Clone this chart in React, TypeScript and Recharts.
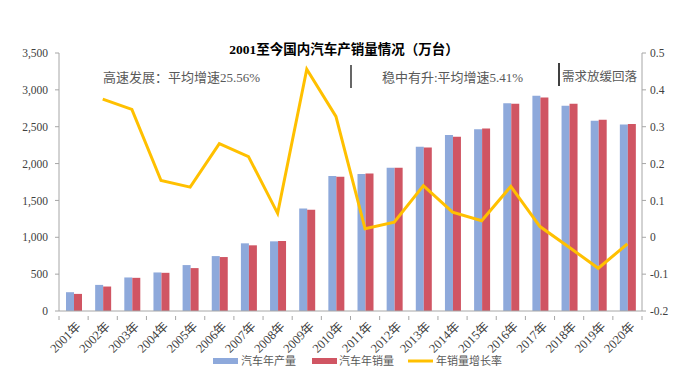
import React from "react";
import {
  ComposedChart,
  Bar,
  Line,
  XAxis,
  YAxis
} from "recharts";

// 年份
const years = [
  "2001年", "2002年", "2003年", "2004年", "2005年",
  "2006年", "2007年", "2008年", "2009年", "2010年",
  "2011年", "2012年", "2013年", "2014年", "2015年",
  "2016年", "2017年", "2018年", "2019年", "2020年"
];

// 汽车年产量（万台）
const production = [
  255, 354, 455, 523, 623, 745, 918, 945, 1390, 1833,
  1857, 1942, 2227, 2386, 2464, 2817, 2920, 2784, 2580, 2531
];

// 汽车年销量（万台）
const sales = [
  232, 332, 450, 518, 582, 732, 891, 950, 1372, 1820,
  1866, 1942, 2219, 2363, 2477, 2812, 2898, 2811, 2594, 2536
];

// 年销量增长率
const growth = [
  null, 0.375, 0.347, 0.154, 0.136, 0.254, 0.219, 0.065, 0.456, 0.328,
  0.023, 0.041, 0.14, 0.068, 0.045, 0.138, 0.029, -0.027, -0.084, -0.018
];

const leftTicks = [0, 500, 1000, 1500, 2000, 2500, 3000, 3500];
const rightTicks = [-0.2, -0.1, 0, 0.1, 0.2, 0.3, 0.4, 0.5];

const data = years.map((year, i) => ({
  year,
  production: production[i],
  sales: sales[i],
  growth: growth[i]
}));

const BLUE = "#8EA9DB";
const RED = "#D05563";
const YELLOW = "#FFC000";
const AXIS = "#A6A6A6";
const TEXT = "#404040";
const FONT = "'Liberation Serif', 'Noto Sans CJK SC', serif";

const YearTick = (props: any) => {
  const { x, y, payload, index } = props;
  const half = payload && payload.offset ? payload.offset : 14.6;
  return (
    <g>
      {index === 0 && (
        <line x1={x - half} x2={x - half} y1={y - 3} y2={y + 1} stroke={AXIS} />
      )}
      <line x1={x + half} x2={x + half} y1={y - 3} y2={y + 1} stroke={AXIS} />
      <text
        transform={`translate(${x + 5},${y + 5}) rotate(-45)`}
        textAnchor="end"
        dy="0.35em"
        fontSize={12.5}
        fontFamily={FONT}
        fill={TEXT}
      >
        {payload.value}
      </text>
    </g>
  );
};

function App() {
  return (
    <div style={{ position: "absolute", left: 0, top: 0, width: 680, height: 384, background: "#fff" }}>
      <ComposedChart
        width={680}
        height={384}
        data={data}
        margin={{ top: 53, right: 0, left: 0, bottom: 0 }}
        barGap={0}
        barSize={8}
      >
        <XAxis
          dataKey="year"
          interval={0}
          height={73}
          tickLine={false}
          stroke={AXIS}
          tick={<YearTick />}
        />
        <YAxis
          yAxisId="left"
          orientation="left"
          width={59}
          domain={[0, 3500]}
          ticks={leftTicks}
          tickSize={4}
          tickMargin={7}
          stroke={AXIS}
          tickFormatter={(v: number) => v.toLocaleString("en-US")}
          tick={{ fill: TEXT, fontSize: 11.5, fontFamily: FONT }}
        />
        <YAxis
          yAxisId="right"
          orientation="right"
          width={38}
          domain={[-0.2, 0.5]}
          ticks={rightTicks}
          tickSize={4}
          tickMargin={4}
          stroke={AXIS}
          tickFormatter={(v: number) => String(Math.round(v * 10) / 10)}
          tick={{ fill: TEXT, fontSize: 11.5, fontFamily: FONT }}
        />
        <Bar yAxisId="left" dataKey="production" name="汽车年产量" fill={BLUE} isAnimationActive={false} />
        <Bar yAxisId="left" dataKey="sales" name="汽车年销量" fill={RED} isAnimationActive={false} />
        <Line
          yAxisId="right"
          type="linear"
          dataKey="growth"
          name="年销量增长率"
          stroke={YELLOW}
          strokeWidth={3}
          dot={false}
          activeDot={false}
          isAnimationActive={false}
        />
      </ComposedChart>

      <svg
        width={680}
        height={384}
        style={{ position: "absolute", left: 0, top: 0, pointerEvents: "none" }}
      >
        <text x={344} y={49} dy="0.35em" textAnchor="middle" fontSize={13.5} fontWeight="bold" fontFamily={FONT} fill="#000">
          2001至今国内汽车产销量情况（万台）
        </text>
        <text x={103} y={77} dy="0.35em" fontSize={13} fontFamily={FONT} fill="#595959">
          高速发展：平均增速25.56%
        </text>
        <line x1={351} x2={351} y1={65} y2={88} stroke="#000" strokeWidth={1.2} />
        <text x={382} y={77} dy="0.35em" fontSize={13} fontFamily={FONT} fill="#595959">
          稳中有升:平均增速5.41%
        </text>
        <line x1={559} x2={559} y1={63} y2={86} stroke="#000" strokeWidth={1.5} />
        <text x={562} y={77} dy="0.35em" fontSize={12.5} fontFamily={FONT} fill="#595959">
          需求放缓回落
        </text>

        <rect x={213} y={358} width={25} height={6} fill={BLUE} />
        <text x={241} y={361} dy="0.35em" fontSize={11} fontFamily={FONT} fill="#595959">汽车年产量</text>
        <rect x={312} y={358} width={25} height={6} fill={RED} />
        <text x={339} y={361} dy="0.35em" fontSize={11} fontFamily={FONT} fill="#595959">汽车年销量</text>
        <line x1={408} x2={433} y1={361} y2={361} stroke={YELLOW} strokeWidth={3} />
        <text x={436} y={361} dy="0.35em" fontSize={11} fontFamily={FONT} fill="#595959">年销量增长率</text>
      </svg>
    </div>
  );
}

export default App;
